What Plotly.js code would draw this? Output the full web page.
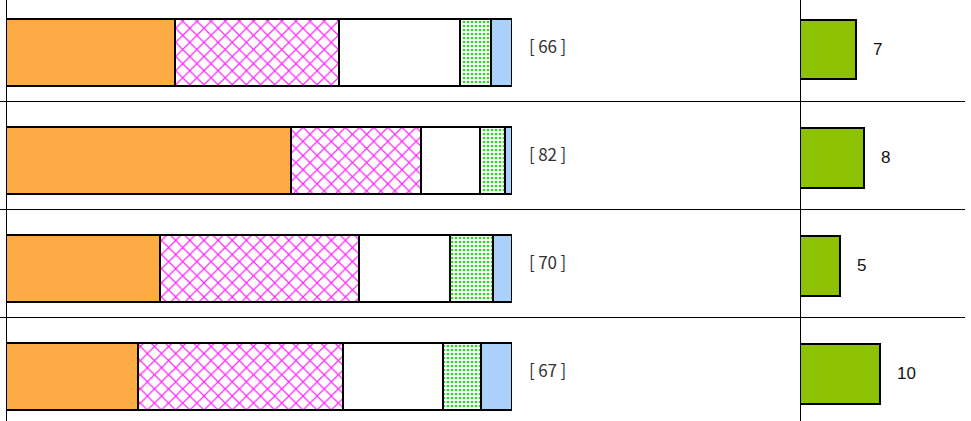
<!DOCTYPE html>
<html>
<head>
<meta charset="utf-8">
<script src="https://cdn.plot.ly/plotly-3.0.1.min.js"></script>
<style>
  html, body { margin: 0; padding: 0; background: #fff; }
  #chart { width: 971px; height: 421px; }
</style>
</head>
<body>
<div id="chart"></div>
<script>
// rows, top to bottom
const rows = [0, 1, 2, 3];

// share of each answer (%), one array per segment
const seg1 = [33.4, 56.3, 30.4, 26.1];
const seg2 = [32.4, 25.7, 39.3, 40.5];
const seg3 = [23.9, 11.7, 18.0, 19.8];
const seg4 = [6.1, 4.9, 8.5, 7.5];
const seg5 = [4.2, 1.4, 3.8, 6.1];

// respondents per row, shown as [n]
const totals = [66, 82, 70, 67];

// right-hand counts
const counts = [7, 8, 5, 10];

const edge = { color: '#000', width: 2 };

function segTrace(vals, marker) {
    return {
        type: 'bar',
        orientation: 'h',
        x: vals,
        y: rows,
        width: 0.62,
        xaxis: 'x',
        yaxis: 'y',
        marker: Object.assign({ line: edge }, marker),
        hoverinfo: 'x',
        showlegend: false
    };
}

const traces = [
    segTrace(seg1, { color: '#fdac45' }),
    segTrace(seg2, { color: '#ffffff', pattern: { shape: 'x', fgcolor: '#ff22ff', bgcolor: '#ffffff', size: 10, solidity: 0.22 } }),
    segTrace(seg3, { color: '#ffffff' }),
    segTrace(seg4, { color: '#ffffff', pattern: { shape: '.', fgcolor: '#22dd22', bgcolor: '#ffffff', size: 4, solidity: 0.35 } }),
    segTrace(seg5, { color: '#a9d1fb' }),
    {
        type: 'bar',
        orientation: 'h',
        x: counts,
        y: rows,
        width: 0.555,
        offset: -0.305,
        xaxis: 'x2',
        yaxis: 'y',
        marker: { color: '#8cc202', line: edge },
        hoverinfo: 'x',
        showlegend: false
    }
];

const annotations = [];
rows.forEach((r, i) => {
    annotations.push({
        xref: 'x', yref: 'y', x: 100, y: r,
        xanchor: 'left', xshift: 15, yshift: 7,
        text: '[\u2009' + totals[i] + '\u2009]',
        showarrow: false,
        font: { family: 'Noto Sans CJK JP, sans-serif', size: 17, color: '#333' }
    });
    annotations.push({
        xref: 'x2', yref: 'y', x: counts[i], y: r - 0.028,
        xanchor: 'left', xshift: 15,
        text: String(counts[i]),
        showarrow: false,
        font: { family: 'Liberation Sans, Arial, sans-serif', size: 17, color: '#111' }
    });
});

// separators between rows
const shapes = rows.slice(0, -1).map(r => ({
    type: 'line', xref: 'paper', yref: 'y',
    x0: 0, x1: 965 / 971, y0: r + 0.454, y1: r + 0.454,
    line: { color: '#000', width: 1 }, layer: 'below'
}));

const layout = {
    width: 971,
    height: 421,
    margin: { l: 0, r: 0, t: 0, b: 0, pad: 0 },
    barmode: 'stack',
    paper_bgcolor: '#fff',
    plot_bgcolor: 'rgba(0,0,0,0)',
    xaxis: {
        domain: [6 / 971, 512 / 971],
        range: [0, 100],
        showgrid: false, showticklabels: false, ticks: '',
        zeroline: true, zerolinecolor: '#000', zerolinewidth: 1
    },
    xaxis2: {
        domain: [800 / 971, 1],
        range: [0, 171 / 8],
        anchor: 'y',
        showgrid: false, showticklabels: false, ticks: '',
        zeroline: true, zerolinecolor: '#000', zerolinewidth: 1
    },
    yaxis: {
        range: [3.412, -0.486],
        showgrid: false, showticklabels: false, ticks: '', zeroline: false
    },
    shapes: shapes,
    annotations: annotations
};

Plotly.newPlot('chart', traces, layout, { displayModeBar: false, staticPlot: true });
</script>
</body>
</html>
